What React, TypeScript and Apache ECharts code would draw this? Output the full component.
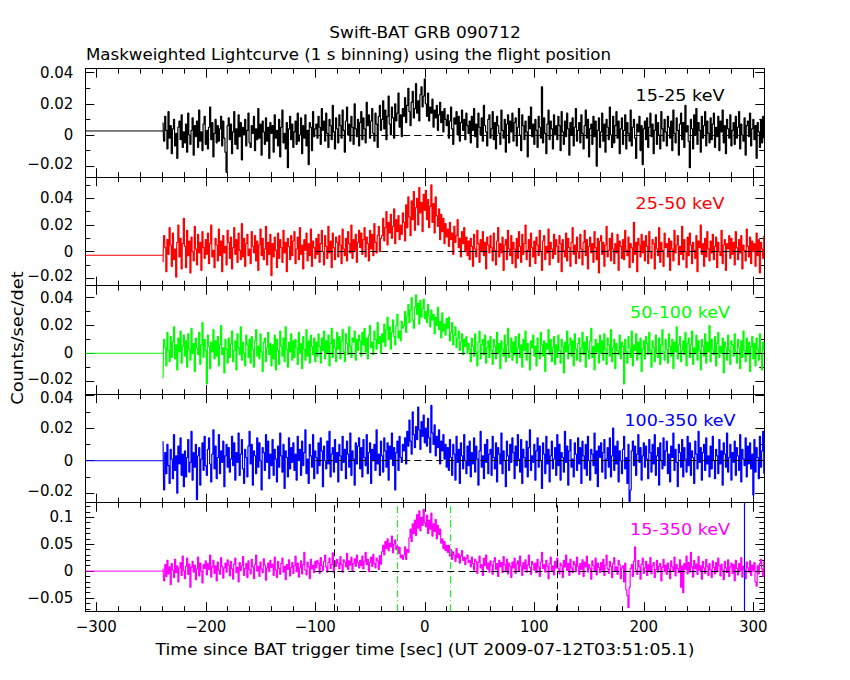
import React, { useEffect, useRef } from "react";
import * as echarts from "echarts";

// ---------- data (count rates in units of 0.001 counts/sec/det, 1 s bins) ----------
const START_TIME = -239; // centre of the first bin [s]
const PRE_TIMES = [-310, -239]; // flat segment before data
const PRE_LEVELS = [0.0026, -0.0027, 0, 0, 0];

const RATE_15_25 = [
  8,-4,12,3,-9,15,-2,6,-12,4,10,-7,1,-15,5,9,-3,13,-8,2,
  -5,7,-11,14,0,-6,3,11,-13,6,-1,9,-8,16,-4,2,-10,7,12,-6,
  3,-9,5,18,-3,8,-14,1,10,-5,6,-4,4,12,-7,9,-2,-11,-24,6,
  11,-3,7,-12,2,15,-6,4,-9,13,-1,8,-16,5,0,10,-7,3,14,-5,
  -8,6,1,12,-10,4,-3,17,-2,7,-13,9,2,-6,11,-4,5,-15,8,1,
  6,-11,13,-2,3,-7,10,-14,5,16,-5,1,-9,8,-21,4,12,-3,7,-8,
  2,9,-6,14,-4,0,11,-12,6,-2,13,-7,3,-19,8,5,-10,15,-1,4,
  7,-2,12,5,-6,17,3,9,-4,14,1,-8,10,6,-3,19,2,-9,11,4,
  -5,13,6,-2,16,3,-11,9,18,0,7,-4,12,5,-6,20,4,-1,10,-7,
  8,15,-3,11,4,-5,21,6,13,-2,9,17,1,-4,14,7,-8,12,19,3,
  10,22,4,16,-3,12,25,7,0,18,11,-2,20,9,14,27,5,13,-1,17,
  12,24,8,19,30,15,6,21,28,11,17,33,14,22,9,26,31,18,25,36,
  20,12,27,9,18,14,23,5,16,11,19,3,13,21,8,15,2,17,10,6,
  13,-2,9,18,4,-6,11,7,15,0,12,-4,8,16,3,10,-3,14,6,1,
  9,-5,12,3,17,-1,7,-8,14,5,0,11,-4,19,6,2,-7,10,13,-2,
  4,15,-3,8,-9,12,6,1,-6,16,3,-2,10,-11,7,13,-5,9,2,14,
  -4,8,11,-7,5,17,0,-10,13,6,-3,9,2,-14,12,4,18,-1,7,-6,
  10,3,-8,12,5,-2,31,-5,11,1,-12,7,16,-3,9,4,-9,13,0,6,
  -3,12,6,-10,15,2,-6,9,-1,14,4,-13,8,0,11,-7,5,17,-4,3,
  8,-5,13,1,-9,6,16,-2,10,-14,4,7,-6,12,-1,9,-20,3,11,-8,
  2,14,-4,7,-11,10,5,-3,18,0,-8,12,-5,6,15,-2,9,-12,4,11,
  -6,3,13,-9,8,1,-4,16,-7,5,10,-2,-15,7,2,12,-10,6,-19,4,
  9,-3,11,-8,5,14,-1,7,-12,3,13,-6,8,0,-9,15,4,-4,10,2,
  -7,12,5,-2,9,-10,16,1,-5,11,3,-13,7,14,-3,8,-8,19,2,6,
  -4,-21,10,4,-9,13,0,17,-6,8,3,-11,12,-2,6,15,-7,9,1,-5,
  11,-3,7,14,-8,5,-1,12,-10,9,2,16,-5,6,-12,10,4,-2,13,-7,
  3,8,-6,12,-2,5,15,-9,7,0,-4,11,-13,6,9,-1,14,-7,4,10,
  -3,6,-15,8,2,-8,10,-5,12,-2,
];

const RATE_25_50 = [
  -8,12,3,-15,9,-2,18,5,-11,14,-6,2,-19,7,20,-4,10,-13,6,25,
  4,-12,16,-3,8,-16,11,0,-7,19,2,-10,13,-1,7,-14,15,3,-5,9,
  -2,14,-9,6,20,-4,1,-12,10,5,-7,17,-3,8,-15,12,-1,4,-10,16,
  7,-5,11,-13,3,18,-2,9,-8,14,1,-6,21,-4,10,-11,6,13,-3,2,
  -9,15,4,-1,12,-7,8,-14,5,17,-3,10,-6,2,19,-10,7,-2,13,-18,
  6,-4,11,1,-12,14,-5,9,3,-8,16,-1,7,-15,10,4,-6,12,-3,8,
  15,-9,2,11,-6,18,-2,5,-13,9,1,14,-7,6,-3,17,-11,8,3,-5,
  10,-2,13,-8,6,16,0,-10,12,4,-5,19,-1,8,-12,14,3,-6,11,7,
  -4,12,5,-9,17,2,-3,10,-7,15,6,-1,20,-5,9,1,13,-8,7,16,
  3,14,-2,9,18,-4,11,6,-7,16,2,13,-3,21,7,-1,12,19,0,10,
  12,25,8,18,30,5,22,14,28,10,19,32,6,24,15,27,9,20,13,29,
  22,8,35,18,41,26,12,38,24,45,16,33,40,20,48,29,37,15,43,31,
  46,24,39,18,34,50,22,36,14,41,27,19,32,9,28,15,25,6,21,11,
  17,4,22,9,14,-2,19,7,12,24,3,10,-4,15,6,18,0,11,-3,8,
  -6,10,4,-11,13,2,-4,16,6,-8,9,0,15,-3,7,-13,11,5,-1,12,
  3,-7,14,1,-10,8,18,-4,6,-1,11,-14,5,9,-6,16,2,-3,12,-9,
  7,2,-12,10,-5,15,4,-8,13,-2,6,20,-6,1,9,-11,14,3,-4,8,
  -9,11,5,-3,16,0,-14,8,12,-6,4,-1,17,-10,7,2,-5,13,-2,9,
  4,-8,12,6,-15,9,1,-4,14,-7,10,3,-11,7,18,-2,5,-9,11,0,
  -5,13,2,-10,7,16,-3,9,-13,4,11,-1,6,-8,15,3,-6,10,-16,8,
  12,-2,7,-11,5,19,-4,1,10,-7,14,2,-9,6,-1,13,-14,8,4,-5,
  9,-6,16,1,-3,11,-12,6,3,-8,22,-2,7,-15,10,5,-4,13,-1,8,
  -7,12,4,-9,15,0,-5,9,6,-13,11,2,-3,18,-8,7,1,-11,14,3,
  6,-4,10,-14,8,2,-7,16,-1,5,12,-10,4,-2,19,-6,9,0,-12,11,
  -3,14,5,-9,7,1,-5,12,-15,8,3,20,-2,6,-11,10,-4,15,2,-7,
  8,-1,13,-6,4,11,-12,7,0,-3,16,-9,5,9,-14,6,2,12,-5,10,
  -2,7,-10,15,3,-6,9,-1,12,-13,5,1,-7,17,4,-4,11,-9,8,0,
  6,-11,14,-3,9,-16,7,2,-5,12,
];

const RATE_50_100 = [
  -18,10,4,-9,15,2,-6,12,-3,8,19,-4,6,-12,11,1,16,-7,5,13,
  -2,9,-10,14,3,-5,18,0,7,-13,11,4,-1,15,-8,6,22,-3,10,2,
  -22,13,5,-11,8,1,17,-4,9,-2,12,-9,6,20,-1,4,-14,10,3,-7,
  11,-3,7,16,-6,2,9,-12,14,4,-1,19,-5,8,0,-9,13,6,-3,10,
  -7,12,3,-10,9,17,-2,5,-4,14,1,-13,8,11,-6,4,15,-1,7,-9,
  6,-4,13,-12,10,2,-8,16,5,-2,11,-6,19,3,-10,8,1,14,-5,9,
  -3,10,4,-8,15,0,7,-11,12,3,-5,17,-2,9,-7,13,5,-1,11,-6,
  8,-2,14,5,-7,11,2,16,-4,9,0,13,-9,7,18,-3,10,4,-6,15,
  3,12,-4,9,17,1,-6,14,7,-1,19,5,-3,11,8,16,-5,10,2,13,
  9,-2,15,6,18,1,11,-4,13,20,4,8,-1,16,10,3,22,7,12,0,
  14,8,21,5,17,26,10,19,3,15,24,12,6,20,28,11,16,9,23,18,
  20,30,15,27,35,22,31,40,24,18,33,42,28,36,21,38,26,32,39,25,
  30,22,35,27,19,31,24,28,14,26,20,33,17,23,11,29,16,21,13,25,
  18,26,9,15,22,6,13,19,4,11,16,2,8,14,-1,10,5,12,0,7,
  3,-6,11,5,-2,14,1,-9,8,16,-4,6,10,-1,13,-7,4,9,-3,12,
  2,-8,10,5,-4,15,0,7,-11,9,3,-2,13,-6,6,18,-3,1,11,-5,
  8,-1,12,-7,4,14,-3,6,-10,10,2,16,-5,7,0,-12,9,4,13,-2,
  5,-9,11,1,-4,15,6,-2,9,-13,7,3,17,-1,10,-6,4,12,-8,6,
  -3,13,2,-7,10,5,-14,8,1,16,-4,6,11,-2,9,-9,14,3,-5,7,
  11,-6,4,15,-1,8,-10,12,2,-4,9,18,-3,5,-12,10,1,7,-7,13,
  0,9,-5,14,3,-8,11,6,-2,17,-6,4,10,-11,7,2,-1,13,-4,8,
  5,-22,10,1,-7,12,4,-3,16,-9,6,2,14,-5,8,-1,11,-13,3,9,
  -4,12,7,-1,15,2,-10,9,4,-6,13,0,-3,11,-8,6,17,1,-5,10,
  3,-7,14,5,-2,10,-11,8,1,19,-4,6,12,-6,2,9,-1,15,-9,7,
  11,-3,6,16,-8,4,0,13,-5,9,2,-12,10,5,-2,14,-7,8,1,20,
  -6,10,3,-1,12,-9,7,15,-3,5,0,11,-14,8,4,-5,13,2,-8,9,
  6,-2,14,1,-7,10,4,-11,9,-3,16,2,-6,11,-1,8,-13,5,12,-4,
  7,-9,11,3,-5,14,0,-12,8,2,
];

const RATE_100_350 = [
  12,-18,5,-8,10,-3,-14,7,1,-11,16,-6,3,-20,9,-2,14,-9,4,-16,
  6,-10,2,13,-7,-1,18,-12,5,-4,10,-24,3,8,-15,1,11,-6,15,-3,
  -9,7,14,-2,-13,4,19,-5,9,-11,2,16,-8,6,-1,12,-16,3,10,-4,
  8,-7,1,15,-3,11,-12,5,-1,17,-9,4,13,-5,-14,7,2,-10,9,18,
  -2,10,-15,6,3,-8,14,-4,11,0,-18,8,5,-6,16,-1,12,-11,4,-3,
  13,-9,7,1,-13,9,-4,17,3,-7,10,-17,6,2,-10,14,-5,8,-1,11,
  -6,4,-12,15,0,7,-9,12,-3,5,19,-8,1,-14,10,3,-4,16,-11,6,
  2,-8,11,-3,14,6,-16,9,0,-5,12,-2,18,-10,4,8,-7,13,-1,5,
  -13,10,3,-6,15,-1,7,-11,12,4,-4,17,-9,6,1,-15,11,-2,9,14,
  -5,8,-10,13,2,-3,16,-8,5,11,-14,7,0,10,-6,19,-2,4,-9,12,
  3,-7,14,6,-4,11,-12,9,1,17,-3,8,-18,5,12,-6,15,2,-1,10,
  6,14,-2,18,9,25,12,4,30,16,8,21,13,33,19,7,24,15,28,11,
  20,9,26,14,5,34,17,10,22,3,15,8,19,-2,12,6,16,1,10,-4,
  8,-6,13,2,-9,10,4,-12,15,-1,7,-14,11,3,-5,16,0,-8,9,-3,
  12,-10,5,-2,14,-7,9,1,-15,6,18,-4,3,-11,10,-1,13,-8,4,7,
  -9,15,2,-5,11,-13,8,4,-2,17,-8,6,0,-16,12,3,-6,10,-1,14,
  5,-11,9,-3,16,1,-7,13,-14,7,2,-4,12,-10,8,19,-6,3,-1,10,
  -12,6,14,-4,9,0,-17,11,4,-8,15,-2,7,-13,3,12,-5,1,8,-9,
  16,-3,10,-12,5,2,-7,18,-1,9,-15,6,13,-4,1,-10,11,4,-6,14,
  -2,8,-14,12,3,-5,10,-9,15,0,-12,7,4,-3,17,-8,6,-16,9,2,
  11,-7,5,13,-11,1,8,-4,14,-10,3,20,-6,9,-2,12,-13,6,0,-8,
  7,15,-5,2,-14,10,-25,-18,6,12,-3,9,-9,4,16,-1,8,-12,3,11,
  -4,9,1,-11,13,5,-7,10,-2,16,-9,3,8,-15,11,0,-5,14,-3,6,
  12,-8,4,-13,9,2,17,-6,7,-1,-16,10,5,-4,13,-10,8,1,-7,15,
  -3,11,-9,6,2,-14,12,4,-5,18,-1,8,-12,5,10,-6,14,-2,3,-10,
  9,-5,15,0,-11,7,3,-8,13,-2,6,-15,11,4,-4,17,-7,2,10,-12,
  5,-1,12,-9,8,3,-6,16,-13,7,1,-3,14,-10,9,-2,11,-5,4,-21,
  13,-7,8,2,-11,15,-4,6,18,-8,
];

const RATE_15_350 = [
  5,-18,12,-10,20,-5,8,-25,14,2,-12,22,-3,10,-20,6,16,-8,28,1,
  -14,9,24,-6,13,-30,7,18,-2,11,-16,4,26,-9,15,0,-22,12,5,19,
  -7,14,3,30,-11,8,20,-4,10,-18,17,2,-6,25,9,-13,6,15,-2,21,
  11,-9,18,4,-15,13,24,-3,7,-20,16,1,10,27,-8,5,14,-12,19,3,
  -5,22,8,-14,12,30,0,9,-10,17,4,-3,23,11,-17,6,15,-1,20,7,
  13,-8,26,2,-12,18,5,-6,14,24,-2,9,-16,12,3,21,-9,7,16,-4,
  10,28,-1,15,-11,6,19,-5,12,35,2,-7,17,8,-14,22,4,11,-3,18,
  6,20,14,-4,25,10,1,18,30,8,-2,16,24,5,12,34,-3,19,9,22,
  15,4,27,12,-2,21,17,8,33,3,19,11,26,0,14,23,9,30,16,6,
  20,10,28,4,18,35,12,22,-1,16,26,9,31,14,6,24,19,3,29,13,
  36,48,30,55,42,60,38,52,45,65,34,50,58,40,47,33,44,25,30,22,
  30,45,22,40,35,62,78,55,88,70,95,66,105,80,112,75,100,85,115,90,
  82,104,70,95,78,108,65,88,74,96,60,85,68,78,52,60,42,55,38,48,
  35,48,28,40,22,36,30,18,42,25,32,15,28,38,20,26,12,24,30,16,
  20,8,26,14,2,22,18,-4,16,28,6,12,-8,24,10,30,4,15,-2,19,
  11,-6,18,25,3,14,-10,20,8,16,-3,27,12,1,22,-5,15,9,-12,17,
  6,24,-4,13,19,0,28,10,-8,16,4,21,-2,11,30,7,-6,18,13,2,
  15,-3,22,8,-10,17,35,5,12,-2,20,9,-14,14,26,1,10,-7,18,6,
  24,4,-5,15,10,-12,20,8,30,1,14,-8,22,6,-3,18,12,-1,26,9,
  -6,14,3,21,-10,17,8,28,-2,12,5,-15,19,10,0,24,-7,15,7,-3,
  16,2,22,-8,11,30,4,-4,18,9,-12,14,25,0,8,-6,20,12,-14,6,
  10,-20,15,-35,-45,-68,-30,5,12,-10,18,45,2,-6,20,8,-15,13,24,-4,
  6,18,-8,12,1,25,-5,10,16,-12,3,20,-2,9,14,-18,7,22,-1,11,
  -6,15,4,-14,19,8,0,26,-9,12,5,-3,21,-30,10,-40,14,3,28,-5,
  16,-2,35,8,-11,20,4,13,-6,27,1,10,-15,18,6,-4,22,9,-8,14,
  3,-12,19,7,-5,16,-1,24,10,-9,13,2,-16,18,6,-3,21,-10,8,15,
  -4,12,-18,20,5,-7,14,1,25,-11,9,3,-14,17,6,-2,19,-8,11,0,
  16,-20,-28,10,-5,14,22,4,-10,18,
];

const RATES = [RATE_15_25, RATE_25_50, RATE_50_100, RATE_100_350, RATE_15_350];
const BANDS = ["15-25 keV", "25-50 keV", "50-100 keV", "100-350 keV", "15-350 keV"];
const COLORS = ["#000000", "#ff0000", "#00ff00", "#0000ff", "#ff00ff"];

// axes
const X_MIN = -310;
const X_MAX = 310;
const X_MAJOR = [-300, -200, -100, 0, 100, 200, 300];
const X_MINOR = [-300,-280,-260,-240,-220,-200,-180,-160,-140,-120,-100,-80,-60,-40,-20,0,20,40,60,80,100,120,140,160,180,200,220,240,260,280,300];
const Y_MIN = [-0.0271, -0.0255, -0.0294, -0.0258, -0.0745];
const Y_MAX = [0.0426, 0.0558, 0.0486, 0.0409, 0.1272];
const Y_MAJOR = [
  [-0.02, 0, 0.02, 0.04],
  [-0.02, 0, 0.02, 0.04],
  [-0.02, 0, 0.02, 0.04],
  [-0.02, 0, 0.02, 0.04],
  [-0.05, 0, 0.05, 0.1],
];
const Y_MINOR = [
  [-0.02, -0.01, 0, 0.01, 0.02, 0.03, 0.04],
  [-0.02, -0.01, 0, 0.01, 0.02, 0.03, 0.04, 0.05],
  [-0.02, -0.01, 0, 0.01, 0.02, 0.03, 0.04],
  [-0.02, -0.01, 0, 0.01, 0.02, 0.03, 0.04],
  [-0.07,-0.06,-0.05,-0.04,-0.03,-0.02,-0.01,0,0.01,0.02,0.03,0.04,0.05,0.06,0.07,0.08,0.09,0.1,0.11,0.12],
];

// reference lines
const ZERO_LINE_FROM = -100;
const BG_DASHED_TIMES = [-82.4, 120.9];
const T90_TIMES = [-25.0, 23.4];
const BLUE_LINE_TIME = 291.4;

const TITLE = "Swift-BAT GRB 090712";
const SUBTITLE = "Maskweighted Lightcurve (1 s binning) using the flight position";
const X_NAME = "Time since BAT trigger time [sec] (UT 2009-07-12T03:51:05.1)";
const Y_NAME = "Counts/sec/det";

// ---------- layout ----------
const FONT = "DejaVu Sans";
const TXT = `15px "${FONT}"`;
const GRID_LEFT = 85.3;
const GRID_WIDTH = 679;
const GRID_TOP0 = 68.7;
const GRID_H = 108.5;

const fmt = (v: number) => (v < 0 ? "\u2212" + String(+(-v).toFixed(4)) : String(+v.toFixed(4)));
const near = (a: number, b: number) => Math.abs(a - b) < 1e-9;

function xAxis(gi: number, pos: string, ticks: number[], len: number, line: boolean, labels: boolean) {
  return {
    type: "value",
    gridIndex: gi,
    position: pos,
    min: X_MIN,
    max: X_MAX,
    axisLine: { show: line, onZero: false, lineStyle: { color: "#000", width: 1 } },
    axisTick: { show: true, inside: true, length: len, customValues: ticks, lineStyle: { color: "#000", width: 1 } },
    axisLabel: {
      show: labels,
      customValues: X_MAJOR,
      formatter: fmt,
      margin: 8,
      color: "#000",
      fontSize: 15,
      fontFamily: FONT,
    },
    splitLine: { show: false },
  };
}

function yAxis(gi: number, pos: string, ticks: number[], len: number, line: boolean, labels: boolean) {
  const majors = Y_MAJOR[gi];
  const lowest = majors[0];
  const highest = majors[majors.length - 1];
  const labelStyle = { color: "#000", fontSize: 15, fontFamily: FONT };
  return {
    type: "value",
    gridIndex: gi,
    position: pos,
    min: Y_MIN[gi],
    max: Y_MAX[gi],
    axisLine: { show: line, onZero: false, lineStyle: { color: "#000", width: 1 } },
    axisTick: { show: true, inside: true, length: len, customValues: ticks, lineStyle: { color: "#000", width: 1 } },
    axisLabel: {
      show: labels,
      customValues: majors,
      formatter: (v: number) => {
        const s = fmt(v);
        // keep the labels at panel joins apart
        if (gi > 0 && gi < 4 && near(v, lowest)) return `{lo|${s}}`;
        if (gi > 0 && near(v, highest) && Y_MAX[gi] - highest < 0.003) return `{hi|${s}}`;
        if (gi < 4 && near(v, lowest)) return `{lo|${s}}`;
        return s;
      },
      margin: 12,
      ...labelStyle,
      rich: {
        lo: { ...labelStyle, padding: [0, 0, 5, 0] },
        hi: { ...labelStyle, padding: [5, 0, 0, 0] },
      },
    },
    splitLine: { show: false },
  };
}

function buildOption() {
  const grid: any[] = [];
  const xAxes: any[] = [];
  const yAxes: any[] = [];
  const series: any[] = [];
  const graphic: any[] = [];

  for (let i = 0; i < 5; i++) {
    const top = GRID_TOP0 + i * GRID_H;
    grid.push({ left: GRID_LEFT, top, width: GRID_WIDTH, height: GRID_H, containLabel: false, outerBoundsMode: "none" });
    const xi = xAxes.length;
    xAxes.push(xAxis(i, "bottom", X_MAJOR, 9, true, i === 4));
    xAxes.push(xAxis(i, "bottom", X_MINOR, 5, false, false));
    xAxes.push(xAxis(i, "top", X_MAJOR, 9, true, false));
    xAxes.push(xAxis(i, "top", X_MINOR, 5, false, false));
    const yi = yAxes.length;
    yAxes.push(yAxis(i, "left", Y_MAJOR[i], 9, true, true));
    yAxes.push(yAxis(i, "left", Y_MINOR[i], 5, false, false));
    yAxes.push(yAxis(i, "right", Y_MAJOR[i], 9, true, false));
    yAxes.push(yAxis(i, "right", Y_MINOR[i], 5, false, false));

    const color = COLORS[i];
    series.push({
      type: "line",
      xAxisIndex: xi,
      yAxisIndex: yi,
      data: PRE_TIMES.map((t) => [t, PRE_LEVELS[i]]),
      showSymbol: false,
      symbol: "none",
      lineStyle: { color, width: 1 },
      silent: true,
      z: 2,
    });

    const markData: any[] = [
      [
        { coord: [ZERO_LINE_FROM, 0], lineStyle: { color: "#000", width: 1, type: [7, 4] } },
        { coord: [X_MAX, 0] },
      ],
    ];
    if (i === 4) {
      BG_DASHED_TIMES.forEach((t) =>
        markData.push({ xAxis: t, lineStyle: { color: "#000", width: 1, type: [7, 4] } })
      );
      T90_TIMES.forEach((t) =>
        markData.push({ xAxis: t, lineStyle: { color: "#00ff00", width: 1, type: [7, 3, 1, 3] } })
      );
      markData.push({ xAxis: BLUE_LINE_TIME, lineStyle: { color: "#0000ff", width: 1.2, type: "solid" } });
    }

    series.push({
      type: "line",
      xAxisIndex: xi,
      yAxisIndex: yi,
      data: RATES[i].map((v, k) => [START_TIME + k, v / 1000]),
      step: "middle",
      showSymbol: false,
      symbol: "none",
      lineStyle: { color, width: 1.2 },
      silent: true,
      z: 2,
      markLine: {
        silent: true,
        symbol: ["none", "none"],
        label: { show: false },
        animation: false,
        data: markData,
      },
    });

    graphic.push({
      type: "text",
      x: 680,
      y: top + 27,
      scaleX: 1.17,
      style: { text: BANDS[i], fill: color, font: TXT, align: "center", verticalAlign: "middle" },
    });
  }

  graphic.push(
    {
      type: "text",
      x: 425,
      y: 33,
      scaleX: 1.13,
      style: { text: TITLE, fill: "#000", font: TXT, align: "center", verticalAlign: "middle" },
    },
    {
      type: "text",
      x: 86,
      y: 54.5,
      scaleX: 1.11,
      style: { text: SUBTITLE, fill: "#000", font: TXT, align: "left", verticalAlign: "middle" },
    },
    {
      type: "text",
      x: 425,
      y: 650,
      scaleX: 1.15,
      style: { text: X_NAME, fill: "#000", font: TXT, align: "center", verticalAlign: "middle" },
    },
    {
      type: "text",
      x: 17.5,
      y: 338,
      rotation: Math.PI / 2,
      scaleX: 1.19,
      style: { text: Y_NAME, fill: "#000", font: TXT, align: "center", verticalAlign: "middle" },
    }
  );

  return {
    animation: false,
    backgroundColor: "#ffffff",
    grid,
    xAxis: xAxes,
    yAxis: yAxes,
    series,
    graphic,
  };
}

export default function App() {
  const ref = useRef<HTMLDivElement>(null);
  useEffect(() => {
    if (!ref.current) return;
    const chart = echarts.init(ref.current, null, { renderer: "svg" });
    chart.setOption(buildOption() as any);
    return () => chart.dispose();
  }, []);
  return (
    <div
      ref={ref}
      style={{ position: "absolute", left: 0, top: 0, width: 850, height: 680, background: "#fff" }}
    />
  );
}
